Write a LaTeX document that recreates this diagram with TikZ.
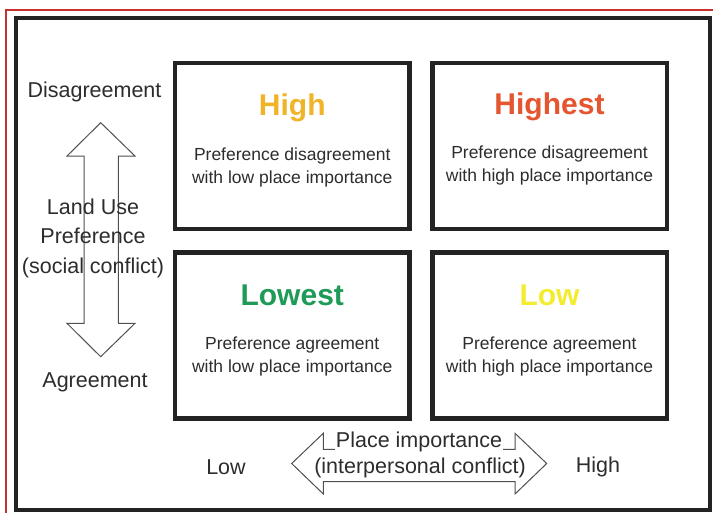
\documentclass[tikz,border=0pt]{standalone}
\usepackage{fontspec}
\setmainfont{Liberation Sans}
\definecolor{framered}{RGB}{200,48,44}
\definecolor{framedark}{RGB}{35,35,35}
\definecolor{txt}{RGB}{45,45,45}
\definecolor{arrowcol}{RGB}{80,80,80}
\definecolor{cHigh}{RGB}{240,180,40}
\definecolor{cHighest}{RGB}{229,85,48}
\definecolor{cLowest}{RGB}{30,155,87}
\definecolor{cLow}{RGB}{244,236,46}
\tikzset{
  quad/.style={draw=framedark, line width=4.5pt, minimum width=234.5pt, minimum height=166pt, inner sep=0pt},
  title/.style={font=\fontsize{30}{36}\selectfont\bfseries, inner sep=0pt, anchor=base},
  body/.style={font=\fontsize{17.5}{23}\selectfont, text=txt, align=center, inner sep=0pt},
  lbl/.style={font=\fontsize{21.5}{29.5}\selectfont, text=txt, align=center, inner sep=0pt},
  blockarrow/.style={draw=arrowcol, line width=1pt, line join=miter}
}
\begin{document}
\begin{tikzpicture}[x=1pt,y=-1pt]
\useasboundingbox (0,0) rectangle (713,512);
\fill[white] (0,0) rectangle (713,512);
% frames
\draw[framered, line width=2pt] (6,513) -- (6,10) -- (714,10);
\draw[framedark, line width=4pt] (15.8,17.5) rectangle (709.5,510);
% quadrants
\node[quad] (tl) at (292.25,146) {};
\node[quad] (tr) at (549.5,146) {};
\node[quad] (bl) at (292.25,335.25) {};
\node[quad] (br) at (549.5,335.25) {};
% titles
\node[title, text=cHigh] (tlt) at (292.25,115) {High};
\node[title, text=cHighest] (trt) at (549.5,114.5) {Highest};
\node[title, text=cLowest] (blt) at (292.25,305) {Lowest};
\node[title, text=cLow] (brt) at (549.5,305) {Low};
% bodies
\node[body] (tlb) at (292.25,167) {Preference disagreement\\with low place importance};
\node[body] (trb) at (549.5,165.5) {Preference disagreement\\with high place importance};
\node[body] (blb) at (292.25,356) {Preference agreement\\with low place importance};
\node[body] (brb) at (549.5,356) {Preference agreement\\with high place importance};
% vertical block arrow
\draw[blockarrow] (100.7,122.7) -- (135,156) -- (118.3,156) -- (118.3,323.3) -- (135,323.3)
  -- (100.7,356.7) -- (67,323.3) -- (84,323.3) -- (84,156) -- (67,156) -- cycle;
% horizontal block arrow
\draw[blockarrow] (291.7,463.5) -- (323.3,433.3) -- (323.3,449.3) -- (515,449.3) -- (515,433.3)
  -- (546.7,463.5) -- (515,494) -- (515,481.7) -- (323.3,481.7) -- (323.3,494) -- cycle;
% axis labels
\node[lbl] (dis) at (94.5,92) {Disagreement};
\node[lbl] (agr) at (95,382) {Agreement};
\node[lbl] (luse) at (93,238) {Land Use\\Preference\\(social conflict)};
\node[lbl, fill=white, inner sep=1pt] (pimp) at (419,442) {Place importance};
\node[lbl] (inter) at (420,467.5) {(interpersonal conflict)};
\node[lbl] (lowx) at (226,467) {Low};
\node[lbl] (highx) at (598,466.5) {High};
\end{tikzpicture}
\end{document}
